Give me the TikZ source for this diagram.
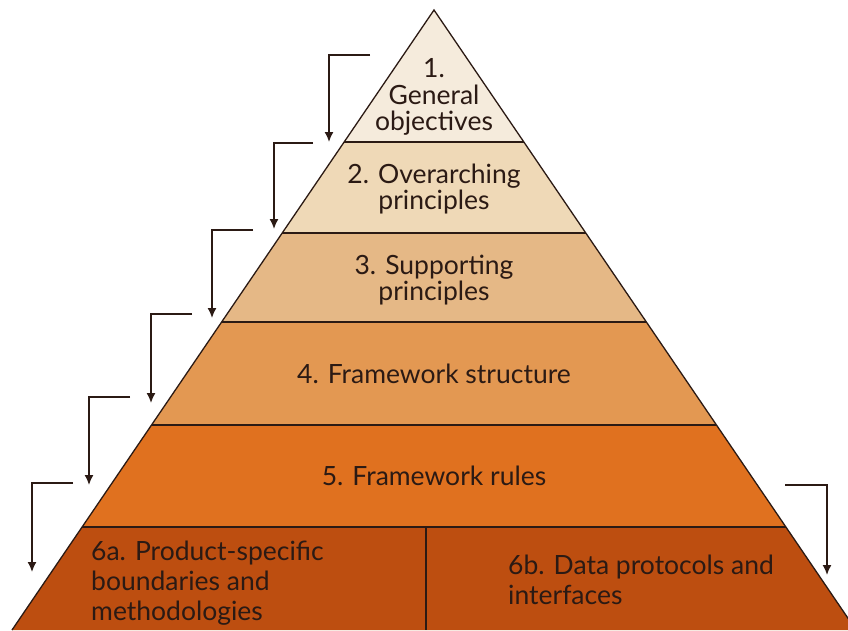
\documentclass[tikz,border=0pt]{standalone}
\usepackage{fontspec}
\setmainfont{Lato}
\usetikzlibrary{calc,arrows.meta}
\definecolor{lineC}{HTML}{2B1A14}
\definecolor{c1}{HTML}{F5EBDC}
\definecolor{c2}{HTML}{EFD9B7}
\definecolor{c3}{HTML}{E5B886}
\definecolor{c4}{HTML}{E39852}
\definecolor{c5}{HTML}{E0711F}
\definecolor{c6}{HTML}{BD4E10}
\tikzset{
  edgeline/.style={draw=lineC, line width=1.3pt},
  lbl/.style={text=lineC, font=\fontsize{26.5}{26.5}\selectfont, align=center, inner sep=0pt},
  lblL/.style={text=lineC, font=\fontsize{26.5}{30}\selectfont, align=left, inner sep=0pt, anchor=west},
  flow/.style={draw=lineC, line width=1.6pt, -{Latex[length=10pt,width=9pt]}}
}
\begin{document}
\begin{tikzpicture}[x=1pt,y=-1pt]
\useasboundingbox (0,0) rectangle (848,630);
\begin{scope}
\clip (0,0) rectangle (848,630);
\coordinate (A) at (434,10);
\coordinate (BL) at (12,630);
\coordinate (BR) at (856,630);
% boundary points
\foreach \n/\y in {b1/142,b2/233,b3/322,b4/425,b5/527}{
  \coordinate (\n l) at ($(A)!{(\y-10)/620}!(BL)$);
  \coordinate (\n r) at ($(A)!{(\y-10)/620}!(BR)$);
}
\coordinate (d6t) at (426,527);
\coordinate (d6b) at (426,630);
\fill[c1] (A) -- (b1r) -- (b1l) -- cycle;
\fill[c2] (b1l) -- (b1r) -- (b2r) -- (b2l) -- cycle;
\fill[c3] (b2l) -- (b2r) -- (b3r) -- (b3l) -- cycle;
\fill[c4] (b3l) -- (b3r) -- (b4r) -- (b4l) -- cycle;
\fill[c5] (b4l) -- (b4r) -- (b5r) -- (b5l) -- cycle;
\fill[c6] (b5l) -- (b5r) -- (BR) -- (BL) -- cycle;
\foreach \n in {b1,b2,b3,b4,b5}{ \draw[edgeline] (\n l) -- (\n r); }
\draw[edgeline] (d6t) -- (d6b);
\draw[edgeline] (BL) -- (A) -- (BR);
\end{scope}
% labels
\node[lbl] (t1) at (434,97) {1.\\General\\objectives};
\node[lbl] (t2) at (434,189) {2. Overarching\\principles};
\node[lbl] (t3) at (434,280) {3. Supporting\\principles};
\node[lbl] (t4) at (434,374) {4. Framework structure};
\node[lbl] (t5) at (434,476) {5. Framework rules};
\node[lblL] (t6a) at (91,583) {6a. Product-specific\\boundaries and\\methodologies};
\node[lblL] (t6b) at (508,580) {6b. Data protocols and\\interfaces};
% arrows
\foreach \i/\xs/\xc/\ys/\ye in {1/370/329/55/142, 2/313/274/143/229, 3/253/212/230/318, 4/192/151/314/403, 5/130/89/397/485, 6/73/32/483/572, 7/785/827/485/575}{
  \coordinate (s\i) at (\xs,\ys);
  \coordinate (e\i) at (\xc,\ye);
  \draw[flow] (s\i) -| (e\i);
}
\end{tikzpicture}
\end{document}
